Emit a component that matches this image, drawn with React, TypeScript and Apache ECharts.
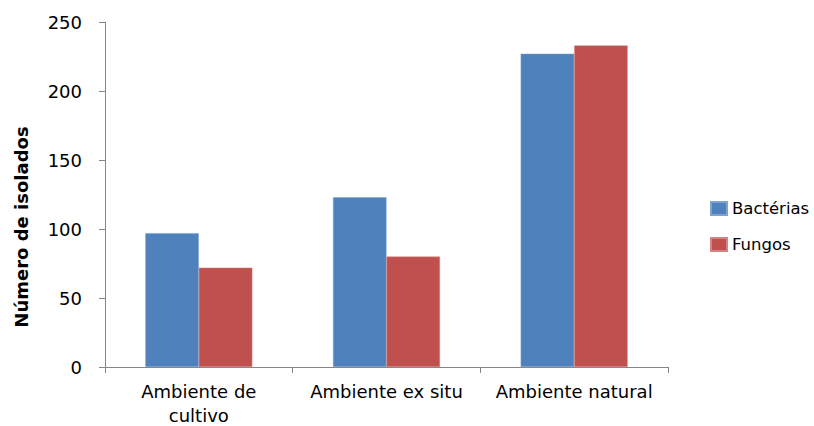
import React, { useEffect, useRef } from "react";
import * as echarts from "echarts";

const categories = ["Ambiente de\ncultivo", "Ambiente ex situ", "Ambiente natural"];
const bacterias = [97, 123, 227];
const fungos = [72, 80, 233];
const seriesNames = ["Bactérias", "Fungos"];
const yTicks = { min: 0, max: 250, interval: 50 };
const yTitle = "Número de isolados";

export default function App() {
  const ref = useRef<HTMLDivElement>(null);
  useEffect(() => {
    if (!ref.current) return;
    const chart = echarts.init(ref.current, null, { renderer: "svg" });
    const font = "'DejaVu Sans', sans-serif";
    chart.setOption({
      animation: false,
      backgroundColor: "#ffffff",
      grid: { left: 105, right: 146, top: 22, bottom: 59, outerBoundsMode: "none", containLabel: false },
      legend: {
        orient: "vertical",
        left: 705,
        top: 195,
        icon: "rect",
        itemWidth: 16,
        itemHeight: 13,
        itemGap: 19,
        textStyle: { fontFamily: font, fontSize: 16.5, color: "#000" },
        data: seriesNames,
      },
      graphic: [
        {
          type: "text",
          x: 21,
          y: 227,
          rotation: Math.PI / 2,
          style: {
            text: yTitle,
            fontFamily: font,
            fontSize: 18,
            fontWeight: "bold",
            fill: "#000",
            align: "center",
            verticalAlign: "middle",
          },
        },
      ],
      xAxis: {
        type: "category",
        data: categories,
        axisLine: { lineStyle: { color: "#868686", width: 1 } },
        axisTick: { show: true, length: 6, lineStyle: { color: "#868686" } },
        axisLabel: {
          interval: 0,
          hideOverlap: false,
          fontFamily: font,
          fontSize: 18,
          color: "#000",
          margin: 12,
          lineHeight: 24,
        },
      },
      yAxis: {
        type: "value",
        min: yTicks.min,
        max: yTicks.max,
        interval: yTicks.interval,
        axisLine: { show: true, lineStyle: { color: "#868686", width: 1 } },
        axisTick: { show: true, length: 6, lineStyle: { color: "#868686" } },
        axisLabel: { fontFamily: font, fontSize: 18, color: "#000", margin: 23 },
        splitLine: { show: false },
      },
      series: [
        {
          name: seriesNames[0],
          type: "bar",
          data: bacterias,
          barGap: "0%",
          barCategoryGap: "43%",
          itemStyle: { color: "#4F81BD", borderColor: "#7FA3D0", borderWidth: 0.5 },
        },
        {
          name: seriesNames[1],
          type: "bar",
          data: fungos,
          barGap: "0%",
          barCategoryGap: "43%",
          itemStyle: { color: "#C0504D", borderColor: "#D48583", borderWidth: 0.5 },
        },
      ],
    });
    return () => chart.dispose();
  }, []);
  return (
    <div
      ref={ref}
      style={{ position: "fixed", left: 0, top: 0, width: 814, height: 426 }}
    />
  );
}
